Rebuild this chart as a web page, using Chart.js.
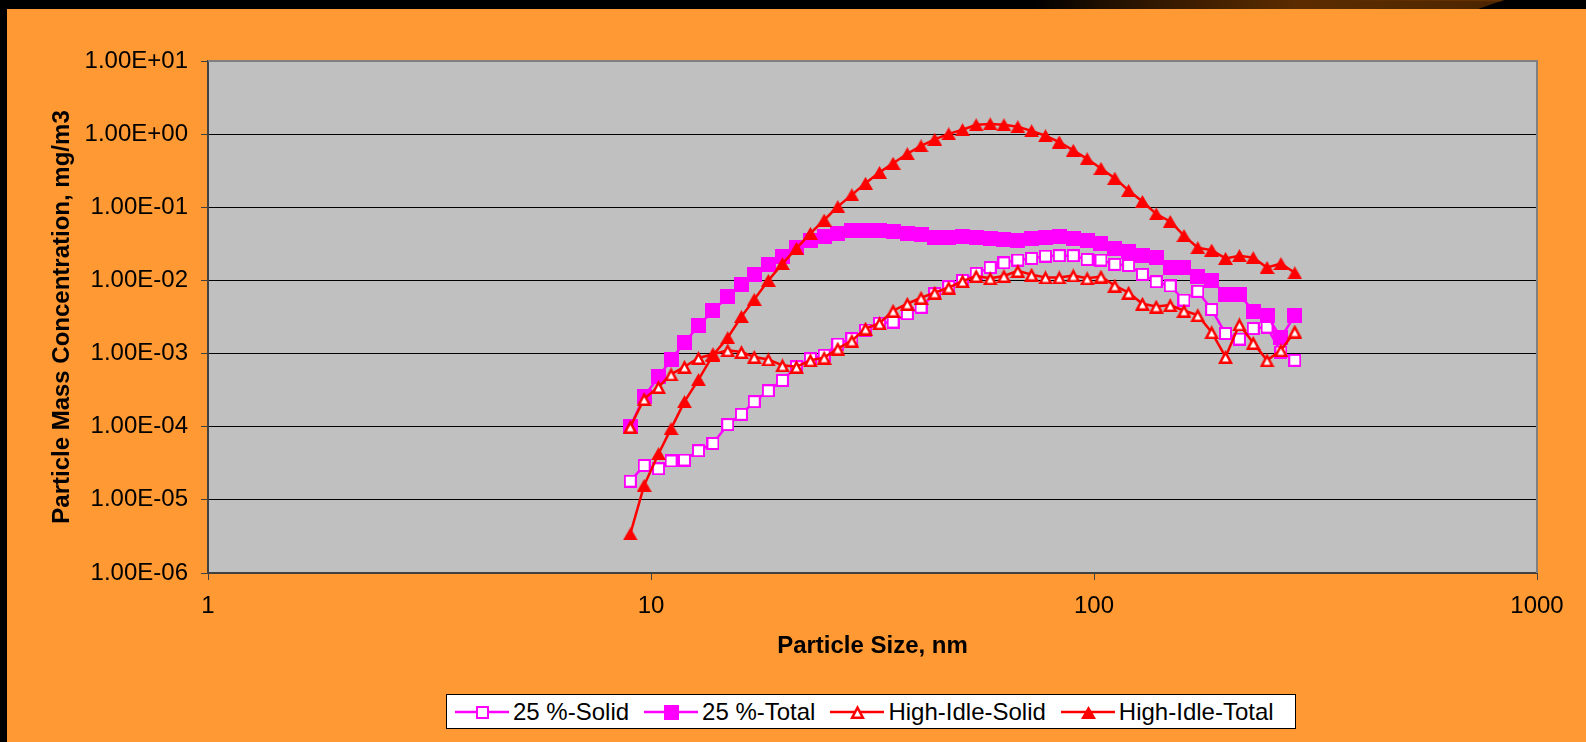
<!DOCTYPE html>
<html>
<head>
<meta charset="utf-8">
<script src="https://cdn.jsdelivr.net/npm/chart.js@4.4.1/dist/chart.umd.min.js"></script>
<style>
  html, body { margin: 0; padding: 0; background: #FF9933; overflow: hidden; }
  #wrap { position: relative; width: 1586px; height: 742px; }
  #chart { position: absolute; left: 0; top: 0; }
  #topband { position: absolute; left: 0; top: 0; width: 1586px; height: 9px; background: #000; }
  #glow { position: absolute; left: 0; top: 0; width: 1586px; height: 9px;
    background: linear-gradient(90deg, #000 0px, #000 1035px, #1e0f00 1100px, #3a1c00 1180px, #4e2600 1250px, #5c2c00 1300px, #542900 1420px, #4a2400 1500px);
    clip-path: polygon(0 0, 1504px 0, 1478px 9px, 0 9px); }
  #wedge { position: absolute; left: 0; top: 0; width: 1586px; height: 9px; background: #663200;
    clip-path: polygon(1310px 0, 1504px 0, 1500px 1.5px); opacity: 0.9; }
  #leftband { position: absolute; left: 0; top: 0; width: 7px; height: 742px; background: #000; }
  #legend { position: absolute; left: 446px; top: 694px; width: 840px; height: 33px;
    background: #fff; border: 1px solid #000; display: flex; align-items: center;
    padding-left: 8px; box-sizing: content-box;
    font: 24px "Liberation Sans", Arial, sans-serif; color: #000; white-space: nowrap; }
  #legend .item { display: flex; align-items: center; margin-right: 15px; }
  #legend .item:last-child { margin-right: 0; }
  #legend canvas { display: block; margin-right: 4px; }
</style>
</head>
<body>
<div id="wrap">
  <canvas id="chart" width="1586" height="742"></canvas>
  <div id="topband"></div>
  <div id="glow"></div>
  <div id="wedge"></div>
  <div id="leftband"></div>
  <div id="legend"></div>
</div>
<script>
// Particle diameters (nm), SMPS channel midpoints
const sizes = [8.98, 9.65, 10.4, 11.1, 11.9, 12.8, 13.8, 14.9, 16.0, 17.1,
  18.4, 19.8, 21.3, 22.9, 24.6, 26.4, 28.4, 30.5, 32.8, 35.2,
  37.9, 40.7, 43.7, 47.0, 50.5, 54.2, 58.3, 62.6, 67.3, 72.3,
  77.7, 83.5, 89.8, 96.5, 103.7, 111.4, 119.7, 128.6, 138.2, 148.6,
  159.6, 171.5, 184.3, 198.1, 212.9, 228.8, 245.8, 264.2, 283.9];

// Mass concentrations (mg/m3)
const solid25 = [1.8e-5, 2.95e-5, 2.66e-5, 3.4e-5, 3.5e-5, 4.7e-5, 5.9e-5, 1.07e-4, 1.48e-4, 2.2e-4,
  3.1e-4, 4.3e-4, 6.6e-4, 8.5e-4, 9.5e-4, 1.35e-3, 1.6e-3, 2.1e-3, 2.6e-3, 2.7e-3,
  3.5e-3, 4.3e-3, 6.6e-3, 8.2e-3, 1.0e-2, 1.25e-2, 1.5e-2, 1.74e-2, 1.9e-2, 2.0e-2,
  2.15e-2, 2.18e-2, 2.18e-2, 1.94e-2, 1.9e-2, 1.66e-2, 1.6e-2, 1.21e-2, 9.6e-3, 8.4e-3,
  5.4e-3, 7.1e-3, 4.0e-3, 1.88e-3, 1.58e-3, 2.2e-3, 2.3e-3, 1.05e-3, 8.1e-4];

const total25 = [1.0e-4, 2.6e-4, 4.8e-4, 8.3e-4, 1.4e-3, 2.4e-3, 3.85e-3, 6.0e-3, 8.7e-3, 1.22e-2,
  1.66e-2, 2.15e-2, 2.8e-2, 3.5e-2, 3.96e-2, 4.4e-2, 4.8e-2, 4.8e-2, 4.8e-2, 4.6e-2,
  4.4e-2, 4.2e-2, 3.9e-2, 3.85e-2, 3.96e-2, 3.87e-2, 3.7e-2, 3.6e-2, 3.5e-2, 3.7e-2,
  3.85e-2, 3.96e-2, 3.7e-2, 3.5e-2, 3.2e-2, 2.7e-2, 2.5e-2, 2.2e-2, 2.07e-2, 1.5e-2,
  1.5e-2, 1.12e-2, 1.0e-2, 6.4e-3, 6.5e-3, 3.8e-3, 3.3e-3, 1.65e-3, 3.3e-3];

const idleSolid = [1.0e-4, 2.4e-4, 3.5e-4, 5.2e-4, 6.6e-4, 8.7e-4, 9.8e-4, 1.11e-3, 1.05e-3, 9.0e-4,
  8.3e-4, 6.9e-4, 6.6e-4, 8.1e-4, 8.8e-4, 1.17e-3, 1.5e-3, 2.2e-3, 2.6e-3, 3.85e-3,
  4.8e-3, 5.8e-3, 6.8e-3, 8.0e-3, 9.8e-3, 1.15e-2, 1.07e-2, 1.15e-2, 1.35e-2, 1.2e-2,
  1.1e-2, 1.1e-2, 1.17e-2, 1.07e-2, 1.13e-2, 8.5e-3, 6.8e-3, 4.8e-3, 4.4e-3, 4.6e-3,
  3.85e-3, 3.35e-3, 1.96e-3, 9.0e-4, 2.5e-3, 1.4e-3, 8.1e-4, 1.11e-3, 2.0e-3];

const idleTotal = [3.42e-6, 1.58e-5, 4.27e-5, 9.4e-5, 2.2e-4, 4.4e-4, 9.5e-4, 1.65e-3, 3.2e-3, 5.5e-3,
  1.0e-2, 1.7e-2, 2.75e-2, 4.4e-2, 6.7e-2, 1.02e-1, 1.48e-1, 2.13e-1, 3.0e-1, 4.0e-1,
  5.4e-1, 6.9e-1, 8.5e-1, 1.01, 1.15, 1.34, 1.38, 1.34, 1.26, 1.11,
  0.95, 0.78, 0.60, 0.46, 0.34, 0.25, 0.17, 0.12, 0.081, 0.064,
  0.041, 0.028, 0.026, 0.020, 0.0218, 0.0205, 0.0150, 0.017, 0.0127];

const seriesNames = ['25 %-Solid', '25 %-Total', 'High-Idle-Solid', 'High-Idle-Total'];

const xTicks = [1, 10, 100, 1000];
const xTickLabels = ['1', '10', '100', '1000'];
const yTicks = [1e-6, 1e-5, 1e-4, 1e-3, 1e-2, 1e-1, 1, 10];
const yTickLabels = ['1.00E-06', '1.00E-05', '1.00E-04', '1.00E-03', '1.00E-02', '1.00E-01', '1.00E+00', '1.00E+01'];

const FONT = '"Liberation Sans", Arial, Helvetica, sans-serif';
const MAGENTA = '#FF00FF';
const RED = '#FF0000';

// Marker bitmaps (square / triangle, filled or hollow)
function squareMarker(fill, stroke, size, lw) {
  const c = document.createElement('canvas');
  c.width = size; c.height = size;
  const g = c.getContext('2d');
  g.fillStyle = stroke;
  g.fillRect(0, 0, size, size);
  if (fill !== stroke) {
    g.fillStyle = fill;
    g.fillRect(lw, lw, size - 2 * lw, size - 2 * lw);
  }
  return c;
}

function triangleMarker(fill, stroke, w, h, lw) {
  const c = document.createElement('canvas');
  c.width = w; c.height = h;
  const g = c.getContext('2d');
  const pts = [[w / 2, 0], [w, h], [0, h]];
  const tri = (p) => { g.beginPath(); g.moveTo(p[0][0], p[0][1]); g.lineTo(p[1][0], p[1][1]); g.lineTo(p[2][0], p[2][1]); g.closePath(); g.fill(); };
  g.fillStyle = stroke;
  tri(pts);
  if (fill !== stroke) {
    const side = Math.sqrt((w / 2) * (w / 2) + h * h);
    const s = (w + 2 * side) / 2;
    const r = (w * h / 2) / s;
    const cx = w / 2, cy = h - r;
    const f = (r - lw) / r;
    g.fillStyle = fill;
    tri(pts.map(p => [cx + f * (p[0] - cx), cy + f * (p[1] - cy)]));
  }
  return c;
}

const markers = [
  squareMarker('#FFFFFF', MAGENTA, 13, 2),
  squareMarker(MAGENTA, MAGENTA, 15, 0),
  triangleMarker('#FFFFFF', RED, 15, 14, 2.5),
  triangleMarker(RED, RED, 15, 13, 0)
];
const lineColors = [MAGENTA, MAGENTA, RED, RED];
const seriesValues = [solid25, total25, idleSolid, idleTotal];

const datasets = seriesValues.map((vals, i) => ({
  label: seriesNames[i],
  data: sizes.map((x, k) => ({ x: x, y: vals[k] })),
  borderColor: lineColors[i],
  backgroundColor: lineColors[i],
  borderWidth: 2.5,
  pointStyle: markers[i],
  pointRadius: 8,
  pointHoverRadius: 8,
  tension: 0,
  fill: false,
  order: 3 - i
}));

// Gray plot area and its frame
const plotArea = {
  id: 'plotArea',
  beforeDraw(chart) {
    const a = chart.chartArea, ctx = chart.ctx;
    ctx.save();
    ctx.fillStyle = '#C0C0C0';
    ctx.fillRect(a.left, a.top, a.right - a.left, a.bottom - a.top);
    ctx.restore();
  },
  afterDraw(chart) {
    const a = chart.chartArea, ctx = chart.ctx;
    ctx.save();
    ctx.strokeStyle = '#808080';
    ctx.lineWidth = 2;
    ctx.beginPath();
    ctx.moveTo(a.left, a.top);
    ctx.lineTo(a.right, a.top);
    ctx.lineTo(a.right, a.bottom);
    ctx.stroke();
    ctx.restore();
  }
};

new Chart(document.getElementById('chart'), {
  type: 'line',
  data: { datasets },
  plugins: [plotArea],
  options: {
    responsive: false,
    animation: false,
    devicePixelRatio: 1,
    layout: { padding: { left: 0, top: 61, right: 49, bottom: 69 } },
    plugins: { legend: { display: false }, tooltip: { enabled: false } },
    scales: {
      x: {
        type: 'logarithmic',
        position: 'bottom',
        min: 1, max: 1000,
        afterBuildTicks: s => { s.ticks = xTicks.map(v => ({ value: v })); },
        afterFit: s => { s.height = 100; },
        ticks: {
          autoSkip: false, maxRotation: 0, padding: 12, color: '#000',
          font: { family: FONT, size: 24 },
          callback: v => xTickLabels[xTicks.indexOf(v)]
        },
        grid: { drawOnChartArea: false, drawTicks: true, tickLength: 7, tickColor: '#404040', lineWidth: 1 },
        border: { display: true, color: '#404040', width: 2 },
        title: {
          display: true, text: 'Particle Size, nm', color: '#000',
          font: { family: FONT, size: 24, weight: 'bold' },
          padding: { top: 0, bottom: 12 }
        }
      },
      y: {
        type: 'logarithmic',
        position: 'left',
        min: 1e-6, max: 10,
        afterBuildTicks: s => { s.ticks = yTicks.map(v => ({ value: v })); },
        afterFit: s => { s.width = 208; },
        ticks: {
          autoSkip: false, padding: 13, color: '#000',
          font: { family: FONT, size: 24 },
          callback: v => yTickLabels[yTicks.findIndex(t => Math.abs(Math.log10(t) - Math.log10(v)) < 1e-6)]
        },
        grid: { color: '#000', lineWidth: 1, drawTicks: true, tickLength: 7, tickColor: '#404040' },
        border: { display: true, color: '#404040', width: 2 },
        title: {
          display: true, text: 'Particle Mass Concentration, mg/m3', color: '#000',
          font: { family: FONT, size: 24, weight: 'bold' },
          padding: { top: 48, bottom: 0 }
        }
      }
    }
  }
});

// Legend: line with marker, then series name
const legend = document.getElementById('legend');
seriesNames.forEach((name, i) => {
  const item = document.createElement('div');
  item.className = 'item';
  const icon = document.createElement('canvas');
  icon.width = 54; icon.height = 24;
  const g = icon.getContext('2d');
  g.strokeStyle = lineColors[i];
  g.lineWidth = 2.5;
  g.beginPath(); g.moveTo(0, 12); g.lineTo(54, 12); g.stroke();
  const m = markers[i];
  g.drawImage(m, Math.round(27 - m.width / 2), Math.round(12 - m.height / 2));
  const label = document.createElement('span');
  label.textContent = name;
  item.appendChild(icon);
  item.appendChild(label);
  legend.appendChild(item);
});
</script>
</body>
</html>
